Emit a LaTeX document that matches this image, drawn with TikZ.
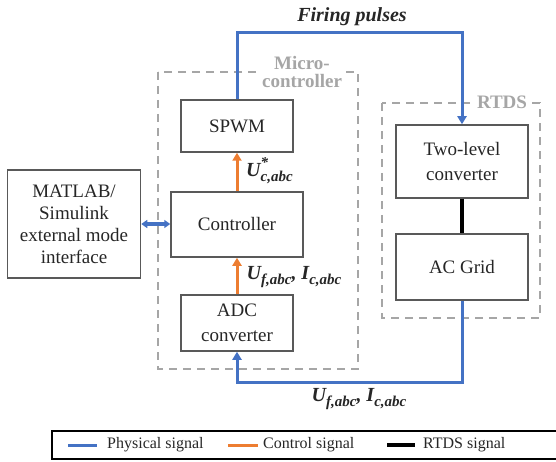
\documentclass[tikz,border=0pt]{standalone}
\usepackage{fontspec}
\setmainfont{Liberation Serif}
\usetikzlibrary{arrows.meta}
\definecolor{phys}{HTML}{4472C4}
\definecolor{ctrl}{HTML}{ED7D31}
\definecolor{frame}{HTML}{595959}
\definecolor{zone}{HTML}{A6A6A6}
\definecolor{ink}{HTML}{262626}
% bold-italic signal name with subscript (and optional stacked superscript)
\newcommand{\sigsub}[1]{\raisebox{-4.5pt}{\fontsize{15}{15}\selectfont\bfseries\itshape #1}}
\newcommand{\sigsubsup}[2]{\raisebox{-4.5pt}{\fontsize{15}{11}\selectfont\bfseries\itshape
  \begin{tabular}[b]{@{}l@{}}#2\\#1\end{tabular}}}
\newcommand{\signame}[1]{{\bfseries\itshape #1}}
\begin{document}
\begin{tikzpicture}[x=1pt,y=-1pt,
  block/.style={draw=frame, line width=1.5pt, fill=white, text=ink, align=center,
    font=\fontsize{19}{25}\selectfont, inner sep=0pt},
  zonebox/.style={draw=zone, line width=2pt, dash pattern=on 8pt off 6pt},
  zonelabel/.style={fill=white, text=zone, font=\bfseries\fontsize{19}{18.5}\selectfont,
    align=center, inner sep=1.5pt},
  tip/.style={-{Triangle[length=8pt,width=9pt]}},
  physline/.style={draw=phys, line width=3pt},
  ctrlline/.style={draw=ctrl, line width=3pt},
  rtdsline/.style={draw=black, line width=3.2pt},
  siglabel/.style={text=ink, font=\fontsize{20}{22}\selectfont, inner sep=0pt},
  legendtext/.style={text=ink, font=\fontsize{16}{18}\selectfont, anchor=west, inner sep=0pt}
]
\useasboundingbox (0,0) rectangle (556,462);

% dashed zones
\draw[zonebox] (158,72) rectangle (358,369);
\draw[zonebox] (382,103) rectangle (540,318);

% blocks
\node[block, minimum width=112pt, minimum height=52pt] (spwm) at (237,126) {SPWM};
\node[block, minimum width=132pt, minimum height=65pt] (ctl) at (237,224.5) {Controller};
\node[block, minimum width=112pt, minimum height=56pt] (adc) at (237,323) {ADC\\converter};
\node[block, minimum width=133pt, minimum height=108pt, font=\fontsize{19}{22}\selectfont]
  (matlab) at (74,224) {MATLAB/\\Simulink\\external mode\\interface};
\node[block, minimum width=132pt, minimum height=73pt] (twolevel) at (462,161.5) {Two-level\\converter};
\node[block, minimum width=132pt, minimum height=66pt] (grid) at (462,267) {AC Grid};

% connectors
\coordinate (firetop) at (462,33);
\coordinate (fbbottom) at (462,382);
\draw[physline, tip] (spwm.north) |- (firetop) -- (twolevel.north);
\draw[physline, tip] (grid.south) -- (fbbottom) -| (adc.south);
\draw[physline, {Triangle[length=6pt,width=8pt]}-{Triangle[length=6pt,width=8pt]}]
  (matlab.east) -- (matlab.east -| ctl.west);
\draw[ctrlline, tip] (ctl.north) -- (spwm.south);
\draw[ctrlline, tip] (adc.north) -- (ctl.south);
\draw[rtdsline] (twolevel.south) -- (grid.north);

% zone titles
\node[zonelabel] (mclabel) at (302,72) {Micro-\\controller};
\node[zonelabel] (rtdslabel) at (502,102) {RTDS};

% signal labels
\node[siglabel] (lblfire) at (352,17) {\signame{Firing pulses}};
\node[siglabel, anchor=base west] (lblref) at (246,177) {\signame{U}\sigsubsup{c,abc}{*}};
\node[siglabel] (lblmeas) at (294,277) {\signame{U}\sigsub{f,abc}\signame{, I}\sigsub{c,abc}};
\node[siglabel] (lblfb) at (359,399) {\signame{U}\sigsub{f,abc}\signame{, I}\sigsub{c,abc}};

% legend
\draw[line width=2.2pt, draw=black] (52,431) rectangle (562,459);
\draw[physline] (68,445) -- (97,445);
\node[legendtext] (lgphys) at (107,445) {Physical signal};
\draw[ctrlline] (228,445) -- (258,445);
\node[legendtext] (lgctrl) at (263,445) {Control signal};
\draw[rtdsline] (387,445) -- (415,445);
\node[legendtext] (lgrtds) at (423,445) {RTDS signal};
\end{tikzpicture}
\end{document}
